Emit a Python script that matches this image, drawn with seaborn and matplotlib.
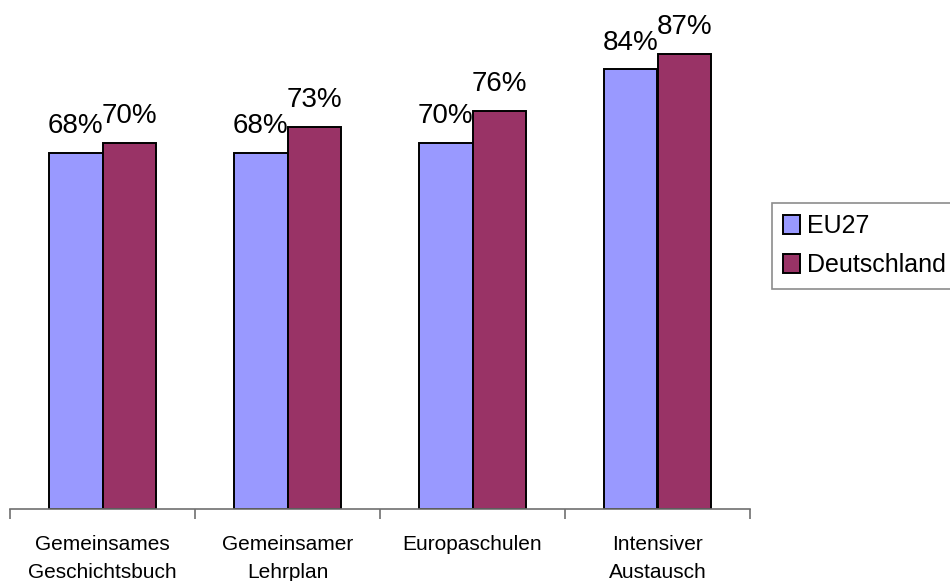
import pandas as pd
import matplotlib
matplotlib.use("Agg")
import matplotlib.pyplot as plt
import seaborn as sns

# Daten
kategorien = ["Gemeinsames\nGeschichtsbuch", "Gemeinsamer\nLehrplan",
              "Europaschulen", "Intensiver\nAustausch"]
eu27 = [68, 68, 70, 84]
deutschland = [70, 73, 76, 87]
serien = ["EU27", "Deutschland"]
farben = ["#9999FF", "#993366"]

df = pd.DataFrame({
    "kategorie": kategorien * 2,
    "wert": eu27 + deutschland,
    "serie": [serien[0]] * 4 + [serien[1]] * 4,
})

sns.set_style("white")
plt.rcParams["font.family"] = ["Liberation Sans", "DejaVu Sans"]
plt.rcParams["text.color"] = "black"
plt.rcParams["xtick.color"] = "black"

fig = plt.figure(figsize=(9.5, 5.81), dpi=100)
ax = fig.add_axes([10 / 950, 72 / 581, 740 / 950, 471 / 581])

sns.barplot(data=df, x="kategorie", y="wert", hue="serie",
            palette=farben, saturation=1, width=0.58, gap=0,
            edgecolor="black", linewidth=1.4, ax=ax, legend=True)

# Werte über den Balken
for cont in ax.containers:
    for bar in cont:
        h = bar.get_height()
        ax.annotate(f"{h:.0f}%", (bar.get_x() + bar.get_width() / 2, h),
                    xytext=(0, 10), textcoords="offset points",
                    ha="center", va="bottom", fontsize=20, color="black")

ax.set_ylim(0, 90)
ax.set_xlim(-0.5, 3.5)
ax.set_xlabel("")
ax.set_ylabel("")
ax.set_yticks([])
for s in ["top", "right", "left"]:
    ax.spines[s].set_visible(False)
ax.spines["bottom"].set_color("#707070")
ax.spines["bottom"].set_linewidth(1.2)

# Striche zwischen den Kategorien, Beschriftung in der Mitte
ax.set_xticks([-0.5, 0.5, 1.5, 2.5, 3.5])
ax.set_xticklabels([])
ax.tick_params(axis="x", which="major", length=7, width=1.2,
               color="#707070", direction="out", bottom=True)
ax.set_xticks(range(4), minor=True)
ax.set_xticklabels(kategorien, minor=True, fontsize=15, linespacing=1.55,
                   color="black")
ax.tick_params(axis="x", which="minor", length=0, pad=19)

leg = ax.legend(loc="upper left", bbox_to_anchor=(772 / 950, 1 - 203 / 581),
                bbox_transform=fig.transFigure, fontsize=18, frameon=True,
                fancybox=False, edgecolor="#707070", handlelength=0.65,
                handleheight=0.75, handletextpad=0.3, borderpad=0.45,
                labelspacing=0.6, borderaxespad=0)
leg.get_frame().set_linewidth(1.2)
for t in leg.get_texts():
    t.set_color("black")

fig.savefig("out.png", dpi=100)
